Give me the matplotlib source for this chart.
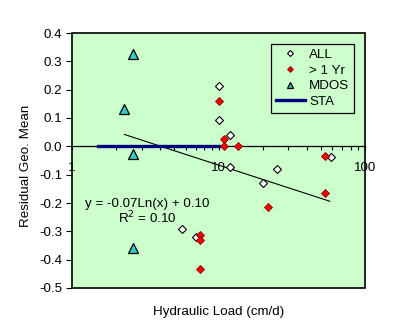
import numpy as np
import matplotlib
matplotlib.use('Agg')
import matplotlib.pyplot as plt
from matplotlib.patches import Rectangle
from matplotlib.ticker import FixedLocator, FixedFormatter, LogLocator, NullFormatter

plt.rcParams['font.family'] = ['Liberation Sans', 'DejaVu Sans']
fs = 9.6

# data
all_x = [10.0, 10.0, 12.0, 12.0, 25.2, 20.0, 58.5, 5.67, 7.0]
all_y = [0.214, 0.093, 0.041, -0.073, -0.079, -0.13, -0.038, -0.292, -0.32]
yr_x = [10.0, 10.9, 10.9, 13.5, 53.2, 53.6, 21.9, 7.53, 7.53, 7.53]
yr_y = [0.16, 0.027, 0.0, 0.0, -0.034, -0.164, -0.215, -0.312, -0.331, -0.432]
mdos_x = [2.59, 2.28, 2.59, 2.59]
mdos_y = [0.325, 0.131, -0.027, -0.36]
sta_x = [1.5, 10.0]
sta_y = [0.0, 0.0]
# log trendline shown on the chart
trend_a, trend_b = -0.073, 0.102
trend_lo, trend_hi = 2.28, 57.6

fig = plt.figure(figsize=(4.03, 3.36), dpi=100)
ax = fig.add_axes([72/403, 1-288/336, (365-72)/403, (288-33)/336])
ax.set_facecolor('#CCFFCC')

tx = np.geomspace(trend_lo, trend_hi, 50)
ax.plot(tx, trend_a*np.log(tx) + trend_b, color='black', lw=0.8, zorder=2)
ax.plot(sta_x, sta_y, color='#000080', lw=2.4, label='STA', zorder=3)
ax.plot(all_x, all_y, 'D', ms=4, mfc='white', mec='black', mew=0.8, label='ALL', zorder=4)
ax.plot(yr_x, yr_y, 'D', ms=4, mfc='#FF0000', mec='#800000', mew=0.6, label='> 1 Yr', zorder=5)
ax.plot(mdos_x, mdos_y, '^', ms=6.5, mfc='#33CCCC', mec='black', mew=0.9, label='MDOS', zorder=5)

ax.set_xscale('log')
ax.set_xlim(1, 100)
ax.set_ylim(-0.5, 0.4)
yt = np.arange(-0.5, 0.41, 0.1)
ax.set_yticks(yt)
ax.set_yticklabels(['%.1f' % v if abs(v) > 1e-9 else '0.0' for v in yt], fontsize=fs)
ax.xaxis.set_major_locator(FixedLocator([1, 10, 100]))
ax.xaxis.set_major_formatter(FixedFormatter(['1', '10', '100']))
ax.xaxis.set_minor_locator(LogLocator(base=10, subs=np.arange(2, 10)))
ax.xaxis.set_minor_formatter(NullFormatter())
ax.tick_params(axis='x', which='both', direction='out', length=3, width=0.8, pad=8, labelsize=fs)
ax.tick_params(axis='y', direction='out', length=4, width=0.8, pad=3)

for s in ['top', 'right', 'left']:
    ax.spines[s].set_visible(False)
ax.spines['bottom'].set_position(('data', 0))
ax.spines['bottom'].set_linewidth(0.9)
ax.add_patch(Rectangle((0, 0), 1, 1, transform=ax.transAxes, fill=False,
                       edgecolor='black', lw=1.2, clip_on=False, zorder=6))

ax.text(3.26, -0.204, 'y = -0.07Ln(x) + 0.10', ha='center', va='center', fontsize=fs)
ax.text(3.26, -0.253, 'R$^2$ = 0.10', ha='center', va='center', fontsize=fs)

ax.set_xlabel('Hydraulic Load (cm/d)', fontsize=fs)
ax.xaxis.set_label_coords(0.5, -0.07)
ax.set_ylabel('Residual Geo. Mean', fontsize=fs)
ax.yaxis.set_label_coords(-0.135, 0.48)

h, l = ax.get_legend_handles_labels()
order = [l.index('ALL'), l.index('> 1 Yr'), l.index('MDOS'), l.index('STA')]
leg = ax.legend([h[i] for i in order], [l[i] for i in order], loc='upper right',
                bbox_to_anchor=(0.962, 0.957), fontsize=fs, frameon=True, fancybox=False,
                edgecolor='black', facecolor='#CCFFCC', framealpha=1, labelspacing=0.25,
                handlelength=2.2, handletextpad=0.3, borderpad=0.35, borderaxespad=0,
                markerscale=0.75)
leg.get_frame().set_linewidth(0.9)

fig.savefig('out.png', dpi=100, facecolor='white')
